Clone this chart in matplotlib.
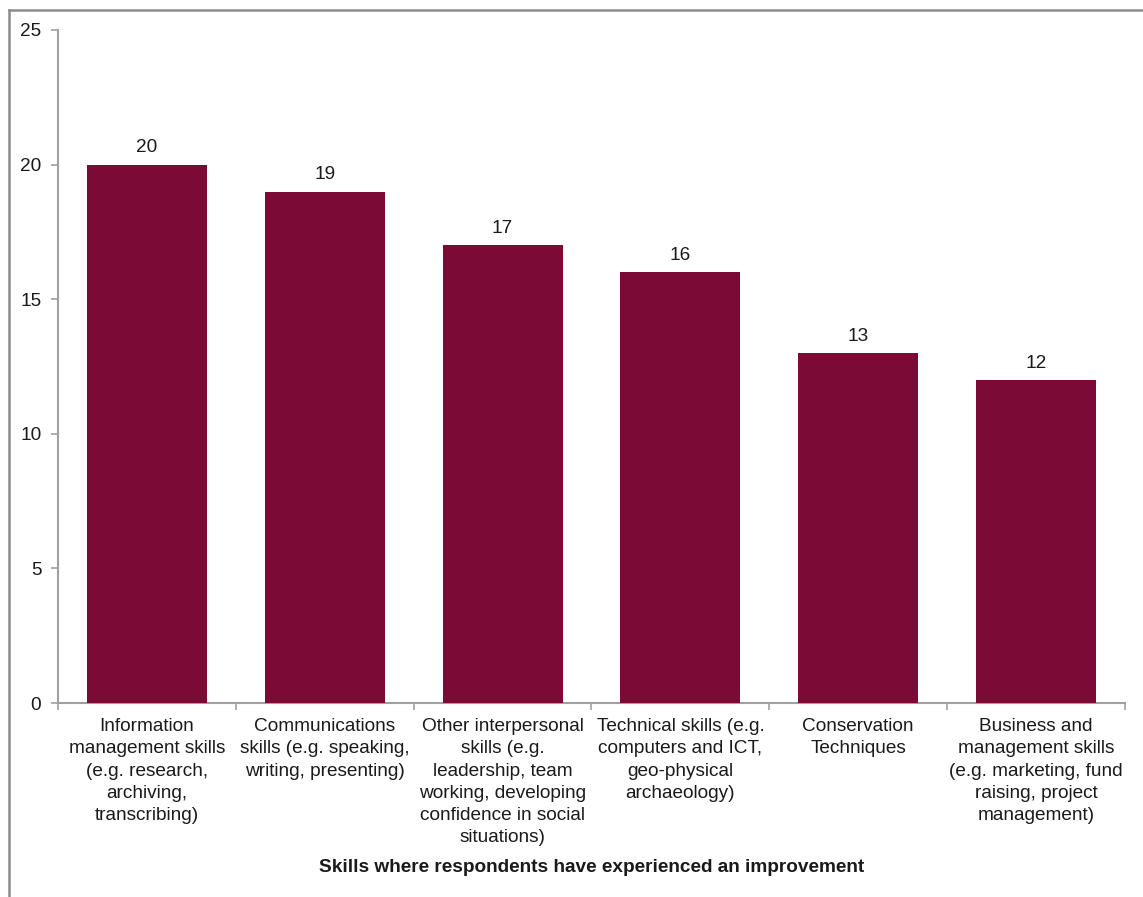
import numpy as np
import matplotlib.pyplot as plt
from matplotlib.lines import Line2D

categories = [
    "Information\nmanagement skills\n(e.g. research,\narchiving,\ntranscribing)",
    "Communications\nskills (e.g. speaking,\nwriting, presenting)",
    "Other interpersonal\nskills (e.g.\nleadership, team\nworking, developing\nconfidence in social\nsituations)",
    "Technical skills (e.g.\ncomputers and ICT,\ngeo-physical\narchaeology)",
    "Conservation\nTechniques",
    "Business and\nmanagement skills\n(e.g. marketing, fund\nraising, project\nmanagement)",
]
values = [20, 19, 17, 16, 13, 12]
yticks = [0, 5, 10, 15, 20, 25]

plt.rcParams['font.family'] = ['Liberation Sans', 'DejaVu Sans']

W, H = 1143, 897
fig = plt.figure(figsize=(W / 100, H / 100), dpi=100)
ax = fig.add_axes([58 / W, 1 - 703 / H, (1125 - 58) / W, (703 - 30) / H])

bar_color = "#7B0A36"
spine_color = "#A0A0A0"
text_color = "#1A1A1A"
fs = 13.7

x = np.arange(len(values))
bars = ax.bar(x, values, width=0.675, color=bar_color, zorder=3)

for xi, v in zip(x, values):
    ax.annotate(str(v), (xi, v), xytext=(0, 6), textcoords="offset points",
                ha="center", va="bottom", fontsize=fs, color=text_color)

ax.set_xlim(-0.5, len(values) - 0.5)
ax.set_ylim(0, 25)
ax.set_yticks(yticks)
ax.set_yticklabels([str(t) for t in yticks], fontsize=fs, color=text_color)

ax.set_xticks(x)
ax.set_xticklabels(categories, fontsize=fs, color=text_color, linespacing=1.4)
ax.set_xticks(np.arange(len(values) + 1) - 0.5, minor=True)
ax.tick_params(axis="x", which="major", length=0, pad=11)
ax.tick_params(axis="x", which="minor", length=5, color=spine_color, width=1.2)
ax.tick_params(axis="y", length=5, color=spine_color, width=1.2, pad=7)

for s in ["top", "right"]:
    ax.spines[s].set_visible(False)
for s in ["left", "bottom"]:
    ax.spines[s].set_color(spine_color)
    ax.spines[s].set_linewidth(1.5)

ax.set_xlabel("Skills where respondents have experienced an improvement",
              fontsize=fs, fontweight="bold", color=text_color, labelpad=9)

# outer chart frame (left and top edges)
fig.add_artist(Line2D([9 / W, 9 / W], [0, 1 - 10 / H], transform=fig.transFigure,
                      color="#8C8C8C", linewidth=1.8))
fig.add_artist(Line2D([9 / W, 1], [1 - 10 / H, 1 - 10 / H], transform=fig.transFigure,
                      color="#8C8C8C", linewidth=1.8))

fig.savefig("out.png", dpi=100)
